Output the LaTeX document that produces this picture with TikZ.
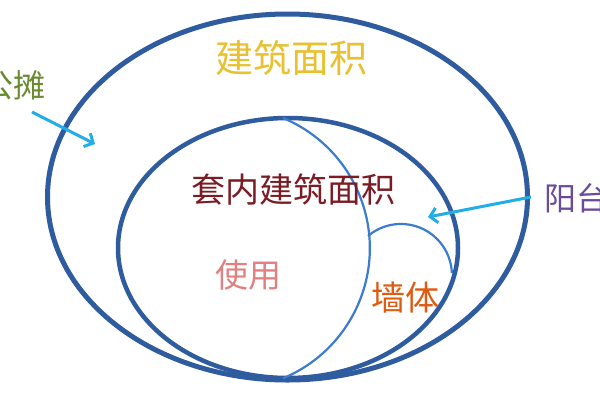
\documentclass[tikz,border=0pt]{standalone}
\usepackage{fontspec}
\newfontfamily\cjk{Noto Sans CJK SC}
\usetikzlibrary{arrows.meta}
\definecolor{ring}{HTML}{2E5C9E}
\definecolor{thin}{HTML}{3B7BD0}
\definecolor{arrowc}{HTML}{21AEE8}
\definecolor{gold}{HTML}{E8C030}
\definecolor{dred}{HTML}{7B1C24}
\definecolor{purp}{HTML}{6A4A9A}
\definecolor{pinkc}{HTML}{E08080}
\definecolor{orangec}{HTML}{E05A10}
\definecolor{olive}{HTML}{6A8A30}
\begin{document}
\begin{tikzpicture}[x=1pt,y=-1pt,
  lbl/.style={inner sep=0pt,font=\cjk},
  ringline/.style={draw=ring},
  thinline/.style={draw=thin,line width=2.2pt},
  pointer/.style={draw=arrowc,line width=3pt,-{Straight Barb[length=7pt,width=15pt]}}]
\useasboundingbox[fill=white] (0,0) rectangle (600,400);
% rings
\draw[ringline,line width=5pt] (287.5,197) ellipse [x radius=240pt, y radius=183pt];
\draw[ringline,line width=4.5pt] (288,248) ellipse [x radius=170pt, y radius=130pt];
% thin arcs
\draw[thinline] (283,118) arc[start angle=67.4, end angle=-67.4, radius=141pt];
\draw[thinline] (368,236) arc[start angle=130.2, end angle=2, radius=51pt];
% labels
\node[lbl,text=gold,font=\cjk\fontsize{38}{40}\selectfont] (total) at (291,58) {建筑面积};
\node[lbl,text=dred,font=\cjk\fontsize{34}{36}\selectfont] (inner) at (293,190) {套内建筑面积};
\node[lbl,text=pinkc,font=\cjk\fontsize{33}{35}\selectfont] (use) at (248,275) {使用};
\node[lbl,text=orangec,font=\cjk\fontsize{34}{36}\selectfont] (wall) at (405,298) {墙体};
\node[lbl,text=olive,font=\cjk\fontsize{32}{34}\selectfont,anchor=east] (share) at (46,85) {公摊};
\node[lbl,text=purp,font=\cjk\fontsize{32}{34}\selectfont,anchor=west] (balc) at (544,198) {阳台};
% pointers
\coordinate (s1) at (32,112);
\coordinate (t1) at (95,144);
\coordinate (s2) at (531,197);
\coordinate (t2) at (428,217);
\draw[pointer] (s1) -- (t1);
\draw[pointer] (s2) -- (t2);
\end{tikzpicture}
\end{document}
